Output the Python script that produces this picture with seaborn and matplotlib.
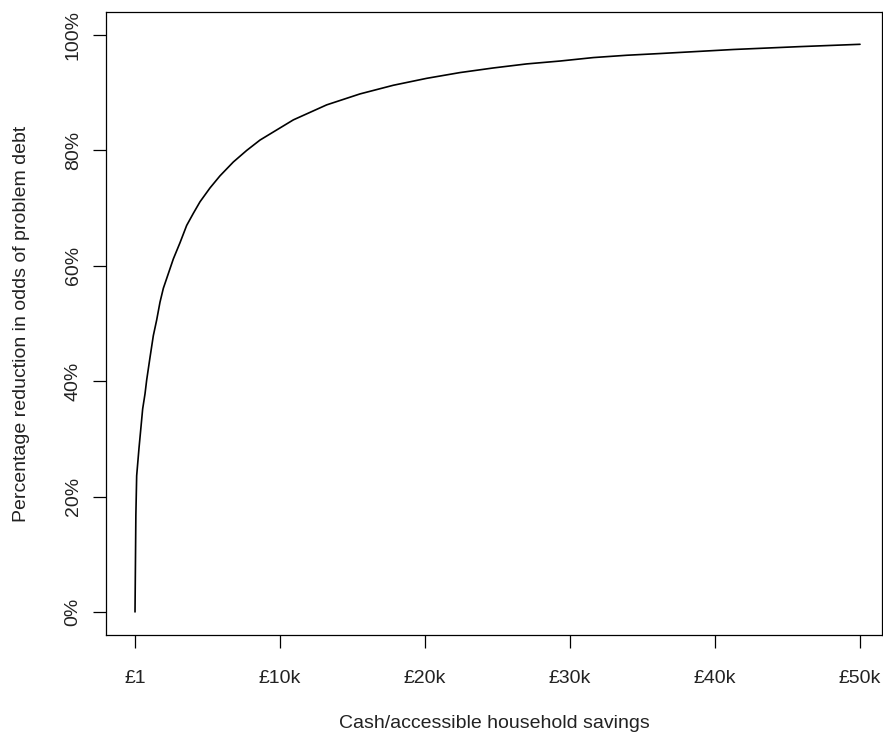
import numpy as np
import pandas as pd
import seaborn as sns
import matplotlib.pyplot as plt
from matplotlib.ticker import FuncFormatter


# values
savings = [1, 60, 115, 276, 414, 529, 690, 805, 1034, 1264, 1494, 1724, 1954,
           2184, 2644, 3103, 3563, 4023, 4483, 5172, 5862, 6782, 7701, 8621,
           9540, 10920, 13218, 15517, 17816, 20115, 22414, 24713, 27011,
           29310, 31609, 33908, 36207, 41264, 45862, 50000]
reduction = [0, 16.8, 23.6, 28.4, 32.1, 35.2, 37.8, 40.2, 44.1, 47.9, 50.6,
             53.7, 56.1, 57.8, 61.2, 64.0, 67.0, 69.1, 71.1, 73.5, 75.6, 78.0,
             80.0, 81.8, 83.2, 85.3, 87.9, 89.8, 91.3, 92.5, 93.5, 94.3, 95.0,
             95.5, 96.1, 96.5, 96.8, 97.5, 98.0, 98.4]

x_ticks = [1, 10000, 20000, 30000, 40000, 50000]
x_labels = ["£1", "£10k", "£20k", "£30k", "£40k", "£50k"]
y_ticks = [0, 20, 40, 60, 80, 100]

sns.set_style("ticks")
plt.rcParams['font.family'] = ['Liberation Sans', 'DejaVu Sans']

df = pd.DataFrame({"savings": savings, "reduction": reduction})

fig = plt.figure(figsize=(8.83, 7.37), dpi=100)
ax = fig.add_axes([106 / 883, 1 - 635 / 737, 776 / 883, 623 / 737])

sns.lineplot(data=df, x="savings", y="reduction", color="black", linewidth=1.2, ax=ax)

ax.set_xlim(-2000, 51517)
ax.set_ylim(-4, 104)

ax.set_xticks(x_ticks)
ax.set_xticklabels(x_labels)
ax.set_yticks(y_ticks)
ax.yaxis.set_major_formatter(FuncFormatter(lambda v, p: f"{v:.0f}%"))
for lab in ax.get_yticklabels():
    lab.set_rotation(90)
    lab.set_va("center")

fs = 14
ax.tick_params(axis="both", direction="out", length=9.5, width=0.9, color="black",
               labelsize=fs, labelcolor="#222222")
ax.tick_params(axis="x", pad=15.5)
ax.tick_params(axis="y", pad=8)

for s in ax.spines.values():
    s.set_visible(True)
    s.set_color("black")
    s.set_linewidth(0.9)

ax.set_xlabel("Cash/accessible household savings", fontsize=fs, color="#222222", labelpad=20)
ax.set_ylabel("Percentage reduction in odds of problem debt", fontsize=fs, color="#222222", labelpad=25)

plt.savefig("out.png", dpi=100)
